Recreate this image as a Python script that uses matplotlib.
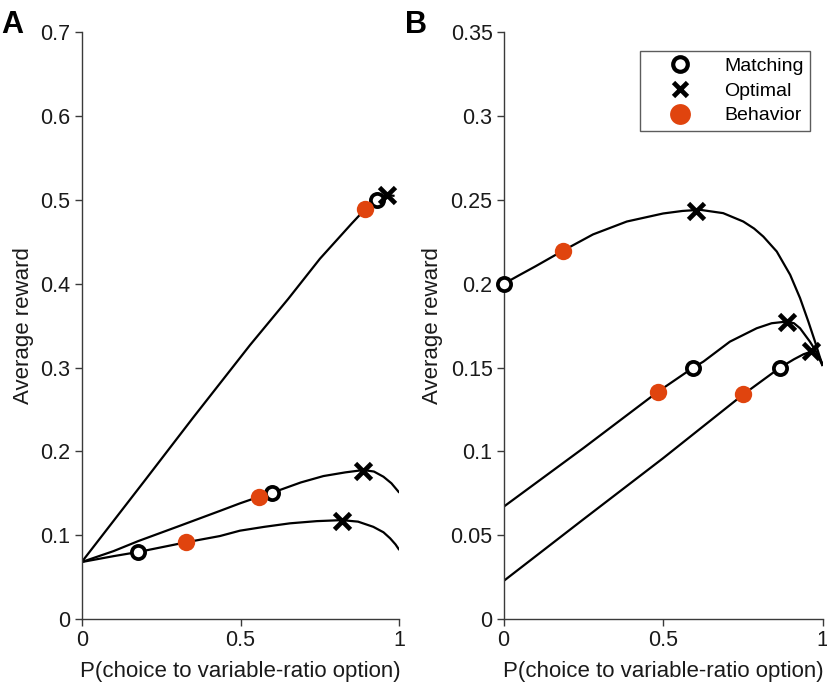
import matplotlib.pyplot as plt
from matplotlib.lines import Line2D

plt.rcParams['font.family'] = ['Liberation Sans', 'DejaVu Sans']

ORANGE = '#E0440E'

# ---- Panel A curves ----
a_top_x = [0.0, 0.10, 0.20, 0.35, 0.53, 0.65, 0.75, 0.85, 0.892, 0.93, 0.96, 0.985]
a_top_y = [0.068, 0.117, 0.166, 0.240, 0.327, 0.382, 0.430, 0.472, 0.489, 0.500, 0.506, 0.505]

a_mid_x = [0.0, 0.10, 0.178, 0.30, 0.435, 0.498, 0.559, 0.624, 0.69, 0.761, 0.83, 0.887,
           0.92, 0.95, 0.975, 1.0]
a_mid_y = [0.068, 0.081, 0.093, 0.110, 0.129, 0.138, 0.146, 0.154, 0.163, 0.1706, 0.175, 0.1778,
           0.1760, 0.1698, 0.1620, 0.1507]

a_bot_x = [0.0, 0.10, 0.178, 0.328, 0.435, 0.498, 0.575, 0.656, 0.74, 0.819, 0.87, 0.918,
           0.95, 0.971, 0.988, 1.0]
a_bot_y = [0.068, 0.075, 0.080, 0.0915, 0.099, 0.1054, 0.110, 0.1142, 0.1168, 0.118, 0.1162, 0.110,
           0.1035, 0.0963, 0.0890, 0.0823]

a_match_x = [0.929, 0.598, 0.178]
a_match_y = [0.500, 0.1507, 0.0803]
a_opt_x = [0.960, 0.887, 0.819]
a_opt_y = [0.506, 0.1766, 0.1173]
a_beh_x = [0.892, 0.559, 0.328]
a_beh_y = [0.489, 0.146, 0.0915]

# ---- Panel B curves ----
b_top_x = [0.0, 0.05, 0.10, 0.185, 0.28, 0.386, 0.50, 0.56, 0.615, 0.688, 0.751, 0.785,
           0.814, 0.856, 0.898, 0.929, 0.955, 0.976, 0.997, 1.0]
b_top_y = [0.200, 0.2053, 0.2105, 0.2197, 0.2295, 0.2372, 0.2420, 0.2435, 0.2442, 0.2422, 0.2372, 0.2330,
           0.2282, 0.2193, 0.2054, 0.1915, 0.1775, 0.1655, 0.1526, 0.151]

b_mid_x = [0.0, 0.25, 0.484, 0.594, 0.626, 0.709, 0.793, 0.84, 0.887, 0.91, 0.929, 0.960,
           0.986, 1.0]
b_mid_y = [0.067, 0.102, 0.1357, 0.150, 0.1536, 0.1655, 0.1735, 0.1765, 0.1775, 0.1765, 0.1735, 0.1655,
           0.1576, 0.152]

b_bot_x = [0.0, 0.25, 0.50, 0.751, 0.866, 0.91, 0.94, 0.965, 0.985, 1.0]
b_bot_y = [0.0227, 0.0595, 0.096, 0.134, 0.1500, 0.1550, 0.1580, 0.1596, 0.1570, 0.151]

b_match_x = [0.0, 0.594, 0.866]
b_match_y = [0.200, 0.150, 0.1500]
b_opt_x = [0.602, 0.887, 0.962]
b_opt_y = [0.2437, 0.1775, 0.1598]
b_beh_x = [0.185, 0.484, 0.751]
b_beh_y = [0.2197, 0.1357, 0.134]


def style_axis(ax, ymax, yticks, yticklabels):
    for side in ['top', 'right']:
        ax.spines[side].set_visible(False)
    for side in ['left', 'bottom']:
        ax.spines[side].set_color('#3a3a3a')
        ax.spines[side].set_linewidth(1.0)
    ax.set_xlim(0, 1)
    ax.set_ylim(0, ymax)
    ax.set_xticks([0, 0.5, 1])
    ax.set_xticklabels(['0', '0.5', '1'])
    ax.set_yticks(yticks)
    ax.set_yticklabels(yticklabels)
    ax.tick_params(direction='out', length=5, width=1.0, color='#3a3a3a',
                   labelsize=15.5, labelcolor='#1a1a1a', pad=3)
    ax.set_xlabel('P(choice to variable-ratio option)', fontsize=16, color='#1a1a1a', labelpad=7)
    ax.set_ylabel('Average reward', fontsize=16, color='#1a1a1a', labelpad=5)


def draw_markers(ax, mx, my, ox, oy, bx, by):
    ax.plot(mx, my, 'o', ms=9.5, mfc='white', mec='black', mew=2.7, zorder=3, clip_on=False)
    ax.plot(ox, oy, 'x', ms=12, mec='black', mew=3.4, zorder=4, clip_on=False)
    ax.plot(bx, by, 'o', ms=12.5, mfc=ORANGE, mec=ORANGE, mew=0, zorder=5, clip_on=False)


fig = plt.figure(figsize=(8.28, 6.9), dpi=100)
ax1 = fig.add_axes([0.0987, 0.1029, 0.3836, 0.850])
ax2 = fig.add_axes([0.6083, 0.1029, 0.3853, 0.850])

for xs, ys in [(a_top_x, a_top_y), (a_mid_x, a_mid_y), (a_bot_x, a_bot_y)]:
    ax1.plot(xs, ys, color='black', lw=1.6, zorder=2, solid_capstyle='butt')
draw_markers(ax1, a_match_x, a_match_y, a_opt_x, a_opt_y, a_beh_x, a_beh_y)
style_axis(ax1, 0.7, [0, 0.1, 0.2, 0.3, 0.4, 0.5, 0.6, 0.7],
           ['0', '0.1', '0.2', '0.3', '0.4', '0.5', '0.6', '0.7'])

for xs, ys in [(b_top_x, b_top_y), (b_mid_x, b_mid_y), (b_bot_x, b_bot_y)]:
    ax2.plot(xs, ys, color='black', lw=1.6, zorder=2, solid_capstyle='butt')
draw_markers(ax2, b_match_x, b_match_y, b_opt_x, b_opt_y, b_beh_x, b_beh_y)
style_axis(ax2, 0.35, [0, 0.05, 0.1, 0.15, 0.2, 0.25, 0.3, 0.35],
           ['0', '0.05', '0.1', '0.15', '0.2', '0.25', '0.3', '0.35'])

handles = [
    Line2D([], [], ls='none', marker='o', ms=10.5, mfc='white', mec='black', mew=3.0),
    Line2D([], [], ls='none', marker='x', ms=10.5, mec='black', mew=3.4),
    Line2D([], [], ls='none', marker='o', ms=15, mfc=ORANGE, mec=ORANGE, mew=0),
]
leg = ax2.legend(handles, ['Matching', 'Optimal', 'Behavior'], loc='upper right',
                 bbox_to_anchor=(0.961, 0.969), fontsize=14, frameon=True,
                 fancybox=False, handlelength=3.4, handletextpad=0.55,
                 borderpad=0.35, labelspacing=0.36, borderaxespad=0)
leg.get_frame().set_edgecolor('#333333')
leg.get_frame().set_linewidth(1.0)

fig.text(0.001, 0.952, 'A', fontsize=22, fontweight='bold')
fig.text(0.489, 0.952, 'B', fontsize=22, fontweight='bold')

fig.savefig('out.png', dpi=100)
